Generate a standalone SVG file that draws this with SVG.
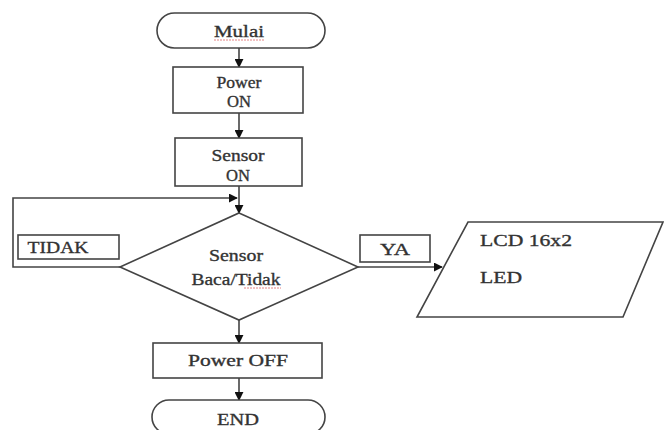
<svg xmlns="http://www.w3.org/2000/svg" width="664" height="430" viewBox="0 0 664 430">
<defs>
<marker id="arr" viewBox="0 0 10 10" refX="9" refY="5" markerWidth="9" markerHeight="9" markerUnits="userSpaceOnUse" orient="auto">
<path d="M0,0 L10,5 L0,10 z" fill="#111"/>
</marker>
<style>
.shape{fill:#fff;stroke:#444;stroke-width:1.6}
.line{fill:none;stroke:#444;stroke-width:1.6}
.t{font-family:"Liberation Serif","Times New Roman",serif;font-size:17px;fill:#333;stroke:#333;stroke-width:0.35;text-anchor:middle}
.tl{font-family:"Liberation Serif","Times New Roman",serif;font-size:17px;fill:#333;stroke:#333;stroke-width:0.35}
.sq{fill:none;stroke:#d66;stroke-width:0.8;stroke-dasharray:2 1}
</style>
</defs>
<rect width="664" height="430" fill="#fff"/>
<g id="connectors">
<line class="line" x1="239" y1="48" x2="239" y2="67" marker-end="url(#arr)"/>
<line class="line" x1="239" y1="113" x2="239" y2="138" marker-end="url(#arr)"/>
<line class="line" x1="239" y1="186" x2="239" y2="213" marker-end="url(#arr)"/>
<polyline class="line" points="120,267 13,267 13,198 237,198" marker-end="url(#arr)"/>
<line class="line" x1="358" y1="267" x2="442" y2="267" marker-end="url(#arr)"/>
<line class="line" x1="239" y1="320" x2="239" y2="343" marker-end="url(#arr)"/>
<line class="line" x1="239" y1="378" x2="239" y2="400" marker-end="url(#arr)"/>
</g>
<g id="mulai">
<rect class="shape" x="157" y="13" width="168" height="35" rx="17.5"/>
<text class="t" x="239" y="37" textLength="50" lengthAdjust="spacingAndGlyphs">Mulai</text>
<path class="sq" d="M214,40 L264,40"/>
</g>
<g id="power-on">
<rect class="shape" x="173" y="67" width="130" height="46"/>
<text class="t" x="239" y="88" textLength="45" lengthAdjust="spacingAndGlyphs">Power</text>
<text class="t" x="239" y="107" textLength="24" lengthAdjust="spacingAndGlyphs">ON</text>
</g>
<g id="sensor-on">
<rect class="shape" x="175" y="138" width="127" height="48"/>
<text class="t" x="238" y="161" textLength="53" lengthAdjust="spacingAndGlyphs">Sensor</text>
<text class="t" x="238" y="181" textLength="24" lengthAdjust="spacingAndGlyphs">ON</text>
</g>
<g id="decision">
<polygon class="shape" points="239,213 358,267 239,320 120,267"/>
<text class="t" x="236" y="261" textLength="54" lengthAdjust="spacingAndGlyphs">Sensor</text>
<text class="t" x="236" y="285" textLength="89" lengthAdjust="spacingAndGlyphs">Baca/Tidak</text>
<path class="sq" d="M244,288 L281,288"/>
</g>
<g id="tidak">
<rect class="shape" x="18" y="235" width="101" height="24"/>
<text class="t" x="58" y="253" textLength="61" lengthAdjust="spacingAndGlyphs">TIDAK</text>
</g>
<g id="ya">
<rect class="shape" x="360" y="235" width="70" height="27"/>
<text class="t" x="395" y="255" textLength="30" lengthAdjust="spacingAndGlyphs">YA</text>
</g>
<g id="output">
<polygon class="shape" points="468,222 663,222 623,317 417,317"/>
<text class="tl" x="480" y="246" textLength="92" lengthAdjust="spacingAndGlyphs">LCD 16x2</text>
<text class="tl" x="480" y="283" textLength="42" lengthAdjust="spacingAndGlyphs">LED</text>
</g>
<g id="power-off">
<rect class="shape" x="153" y="343" width="169" height="35"/>
<text class="t" x="238" y="366" textLength="100" lengthAdjust="spacingAndGlyphs">Power OFF</text>
</g>
<g id="end">
<rect class="shape" x="152" y="400" width="173" height="34" rx="17"/>
<text class="t" x="238" y="425" textLength="42" lengthAdjust="spacingAndGlyphs">END</text>
</g>
</svg>
